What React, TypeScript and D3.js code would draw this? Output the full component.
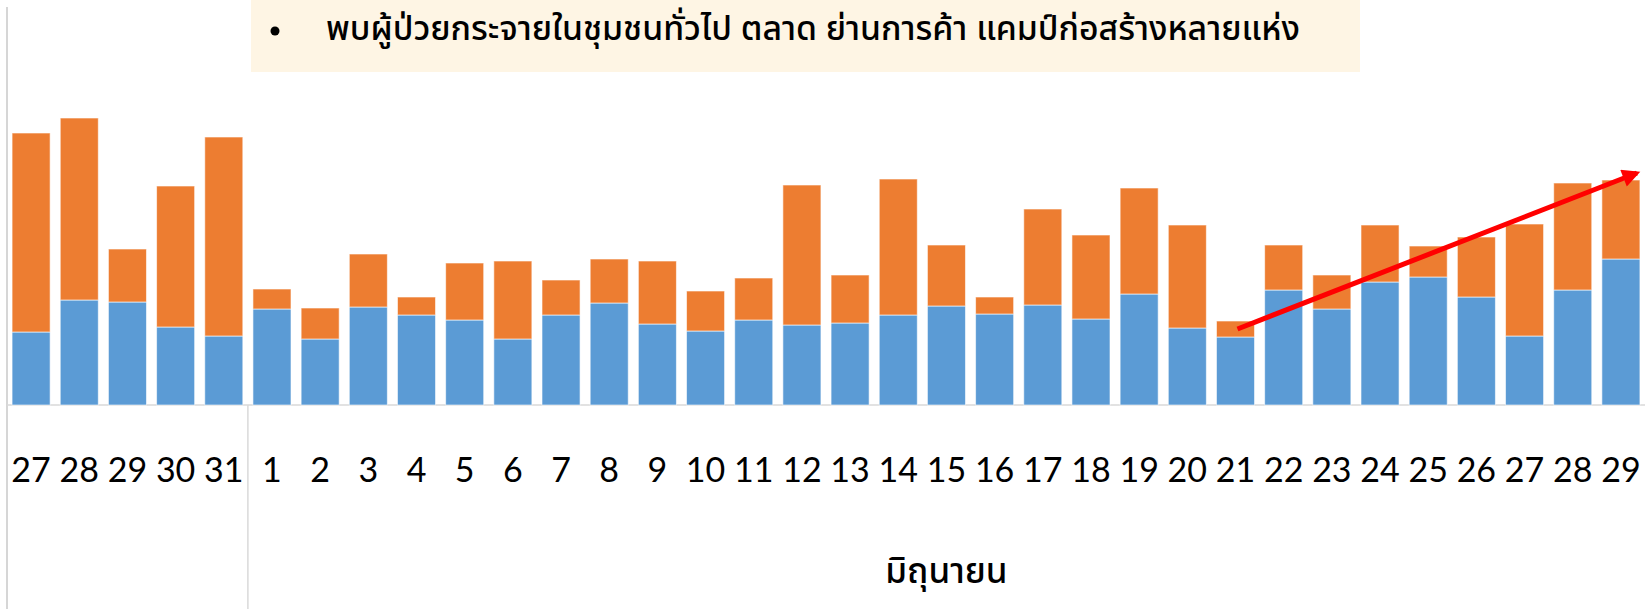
import React from 'react';
import * as d3 from 'd3';

// day labels: 27-31 May, then 1-29 June
const days = ['27', '28', '29', '30', '31',
  '1', '2', '3', '4', '5', '6', '7', '8', '9', '10', '11', '12', '13', '14', '15',
  '16', '17', '18', '19', '20', '21', '22', '23', '24', '25', '26', '27', '28', '29'];
const months = ['', '', '', '', '',
  'มิถุนายน', 'มิถุนายน', 'มิถุนายน', 'มิถุนายน', 'มิถุนายน', 'มิถุนายน', 'มิถุนายน', 'มิถุนายน', 'มิถุนายน', 'มิถุนายน',
  'มิถุนายน', 'มิถุนายน', 'มิถุนายน', 'มิถุนายน', 'มิถุนายน', 'มิถุนายน', 'มิถุนายน', 'มิถุนายน', 'มิถุนายน', 'มิถุนายน',
  'มิถุนายน', 'มิถุนายน', 'มิถุนายน', 'มิถุนายน', 'มิถุนายน', 'มิถุนายน', 'มิถุนายน', 'มิถุนายน', 'มิถุนายน'];
// blue (bottom) and orange (top) stacks
const seriesA = [73, 105, 103, 78, 69,
  96, 66, 98, 90, 85, 66, 90, 102, 81, 74, 85, 80, 82, 90, 99,
  91, 100, 86, 111, 77, 68, 115, 96, 123, 128, 108, 69, 115, 146];
const seriesB = [199, 182, 53, 141, 199,
  20, 31, 53, 18, 57, 78, 35, 44, 63, 40, 42, 140, 48, 136, 61,
  17, 96, 84, 106, 103, 16, 45, 34, 57, 31, 60, 112, 107, 79];
const note = 'พบผู้ป่วยกระจายในชุมชนทั่วไป ตลาด ย่านการค้า แคมป์ก่อสร้างหลายแห่ง';
// trend arrow: from bar index 25 to the end of the last bar
const trendFrom = { i: 25, v: 76 };
const trendTo = { i: 33, v: 232 };

const W = 1645;
const H = 609;
const BLUE = '#5B9BD5';
const ORANGE = '#ED7D31';

export default function App() {
  const idx = days.map((_, i) => i);
  const x = d3.scaleBand<number>().domain(idx).range([7, W]).paddingInner(0.21).paddingOuter(0.105);
  const y = d3.scaleLinear().domain([0, 300]).range([405, 105]);

  const stacked = d3.stack<number>().keys(['a', 'b'])
    .value((i, key) => (key === 'a' ? seriesA[i] : seriesB[i]))(idx);
  const colors = [BLUE, ORANGE];

  // month groups
  const groups = d3.groups(idx, (i) => months[i]);
  const step = x.step();
  const groupEdge = (i: number) => (x(i) as number) - (step - x.bandwidth()) / 2;

  const bw = x.bandwidth();
  const ax1 = (x(trendFrom.i) as number) + bw / 2 + 2;
  const ay1 = y(trendFrom.v);
  const ax2 = (x(trendTo.i) as number) + bw - 3;
  const ay2 = y(trendTo.v);

  return (
    <div style={{ position: 'fixed', left: 0, top: 0, width: W, height: H, background: '#fff' }}>
      <svg width={W} height={H} style={{ display: 'block' }}>
        <defs>
          <marker id="arrowHead" viewBox="0 0 10 10" refX="8" refY="5" markerWidth="4.2" markerHeight="3.6"
            markerUnits="strokeWidth" orient="auto">
            <path d="M0,0 L10,5 L0,10 z" fill="#FF0000" />
          </marker>
        </defs>

        {/* note box */}
        <rect x={251} y={0} width={1109} height={72} fill="#FEF5E4" />
        <circle cx={275} cy={31} r={4.5} fill="#000" />
        <text x={326} y={40} fontSize={34} fontWeight={500} fill="#000"
          fontFamily="'Noto Sans Thai', 'Noto Sans', Tahoma, sans-serif"
          textLength={974} lengthAdjust="spacingAndGlyphs">{note}</text>

        {/* axes lines */}
        <line x1={7} x2={7} y1={7} y2={H} stroke="#c8c8c8" strokeWidth={1.5} />
        <line x1={7} x2={W} y1={y(0)} y2={y(0)} stroke="#d9d9d9" strokeWidth={1.5} />

        {stacked.map((layer, li) => (
          <g key={li}>
            {layer.map((d, j) => (
              <rect key={j} x={x(idx[j])} y={y(d[1])} width={bw} height={y(d[0]) - y(d[1])}
                fill={colors[li]} stroke="#fff" strokeOpacity={0.6} strokeWidth={1} />
            ))}
          </g>
        ))}

        {/* day labels */}
        {days.map((d, i) => (
          <text key={i} x={(x(i) as number) + bw / 2} y={482} textAnchor="middle" fontSize={34}
            fontFamily="Lato, 'Open Sans', sans-serif" fill="#000">{d}</text>
        ))}

        {/* month group labels and separators */}
        {groups.map(([m, ids], gi) => {
          const left = groupEdge(ids[0]);
          const right = groupEdge(ids[ids.length - 1]) + step;
          return (
            <g key={gi}>
              {gi > 0 && <line x1={left} x2={left} y1={y(0)} y2={H} stroke="#d9d9d9" strokeWidth={1.5} />}
              <text x={(left + right) / 2} y={583} textAnchor="middle" fontSize={35} fontWeight={500}
                fontFamily="'Noto Sans Thai', 'Noto Sans', Tahoma, sans-serif" fill="#000">{m}</text>
            </g>
          );
        })}

        {/* trend arrow */}
        <line x1={ax1} y1={ay1} x2={ax2} y2={ay2} stroke="#FF0000" strokeWidth={5}
          markerEnd="url(#arrowHead)" />
      </svg>
    </div>
  );
}
